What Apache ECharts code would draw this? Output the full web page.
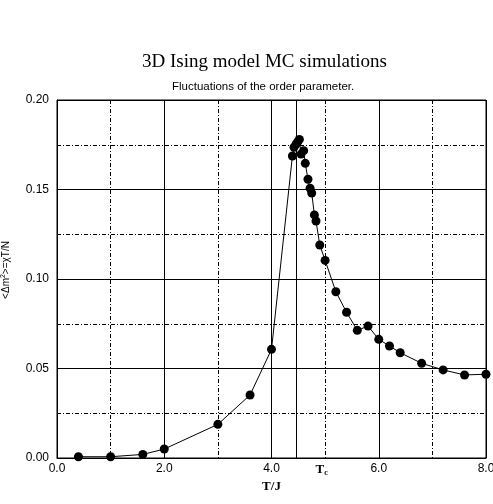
<!DOCTYPE html>
<html>
<head>
<meta charset="utf-8">
<script src="https://cdn.jsdelivr.net/npm/echarts@6/dist/echarts.min.js"></script>
<style>html,body{margin:0;padding:0;background:#fff}#c{width:493px;height:504px}</style>
</head>
<body>
<div id="c"></div>
<script>
var temperatures = [0.4, 1.0, 1.6, 2.0, 3.0, 3.6, 4.0, 4.39, 4.42, 4.46, 4.49, 4.52, 4.55, 4.60, 4.63, 4.68, 4.72, 4.75, 4.80, 4.83, 4.90, 5.0, 5.2, 5.4, 5.6, 5.8, 6.0, 6.2, 6.4, 6.8, 7.2, 7.6, 8.0];
var fluctuations = [0.0007, 0.0007, 0.002, 0.005, 0.0188, 0.0352, 0.0607, 0.1687, 0.1736, 0.1754, 0.1767, 0.178, 0.1698, 0.1717, 0.1646, 0.1557, 0.1507, 0.148, 0.1358, 0.1324, 0.119, 0.1104, 0.0929, 0.0814, 0.0713, 0.0737, 0.0663, 0.0626, 0.0588, 0.0529, 0.0492, 0.0464, 0.0468];
var criticalT = 4.47;
var xTickMin = 0, xTickMax = 8, xTickStep = 2;
var yTickMin = 0, yTickMax = 0.20, yTickStep = 0.05;

var points = temperatures.map(function (t, i) { return [t, fluctuations[i]]; });
var dash = [4, 2, 1, 2];
var chart = echarts.init(document.getElementById('c'));
chart.setOption({
  animation: false,
  backgroundColor: '#fff',
  title: [
    { text: '3D Ising model MC simulations', left: 137, top: 48,
      textStyle: { fontFamily: 'Liberation Serif', fontSize: 19, fontWeight: 'normal', color: '#000' } },
    { text: 'Fluctuations of the order parameter.', left: 167, top: 76,
      textStyle: { fontFamily: 'Liberation Sans', fontSize: 11.5, fontWeight: 'normal', color: '#000' } }
  ],
  grid: { left: 57, right: 7, top: 100, bottom: 46, outerBoundsMode: 'none', containLabel: false,
    show: true, borderColor: '#000', borderWidth: 1, backgroundColor: 'transparent' },
  xAxis: {
    type: 'value', min: xTickMin, max: xTickMax, interval: xTickStep,
    name: 'T/J', nameLocation: 'middle', nameGap: 21,
    nameTextStyle: { fontFamily: 'Liberation Serif', fontWeight: 'bold', fontSize: 13, color: '#000' },
    axisLine: { show: true, lineStyle: { color: '#000', width: 1 } },
    axisTick: { show: false },
    minorTick: { show: false, splitNumber: 2 },
    axisLabel: { color: '#000', fontFamily: 'Liberation Sans', fontSize: 12, margin: 5,
      formatter: function (v) { return v.toFixed(1); } },
    splitLine: { show: true, lineStyle: { color: '#000', width: 1 } },
    minorSplitLine: { show: true, lineStyle: { color: '#000', width: 1, type: dash } }
  },
  yAxis: {
    type: 'value', min: yTickMin, max: yTickMax, interval: yTickStep,
    name: '<Δm{sup|2}>=χT/N', nameLocation: 'middle', nameGap: 45,
    nameTextStyle: { fontFamily: 'Liberation Sans', fontSize: 10, color: '#000', padding: [0, 0, 0, 18],
      rich: { sup: { fontSize: 7, verticalAlign: 'top', padding: [0, 0, 5, 0], fontFamily: 'Liberation Sans', color: '#000' } } },
    axisLine: { show: true, lineStyle: { color: '#000', width: 1 } },
    axisTick: { show: false },
    minorTick: { show: false, splitNumber: 2 },
    axisLabel: { color: '#000', fontFamily: 'Liberation Sans', fontSize: 12, margin: 8,
      formatter: function (v) { return v.toFixed(2); } },
    splitLine: { show: true, lineStyle: { color: '#000', width: 1 } },
    minorSplitLine: { show: true, lineStyle: { color: '#000', width: 1, type: dash } }
  },
  series: [{
    type: 'line', data: points, symbol: 'circle', symbolSize: 9,
    itemStyle: { color: '#000' }, lineStyle: { color: '#000', width: 1 },
    clip: false,
    markLine: {
      silent: true, symbol: 'none',
      lineStyle: { color: '#000', width: 1, type: 'solid' },
      label: { show: true, position: 'start', offset: [25, 0],
        formatter: '{t|T}{s|c}',
        rich: { t: { fontFamily: 'Liberation Serif', fontWeight: 'bold', fontSize: 13, color: '#000' },
                s: { fontFamily: 'Liberation Serif', fontWeight: 'bold', fontSize: 8, color: '#000', verticalAlign: 'bottom', padding: [6, 0, 0, 0] } } },
      data: [{ xAxis: criticalT }]
    }
  }]
});
</script>
</body>
</html>
